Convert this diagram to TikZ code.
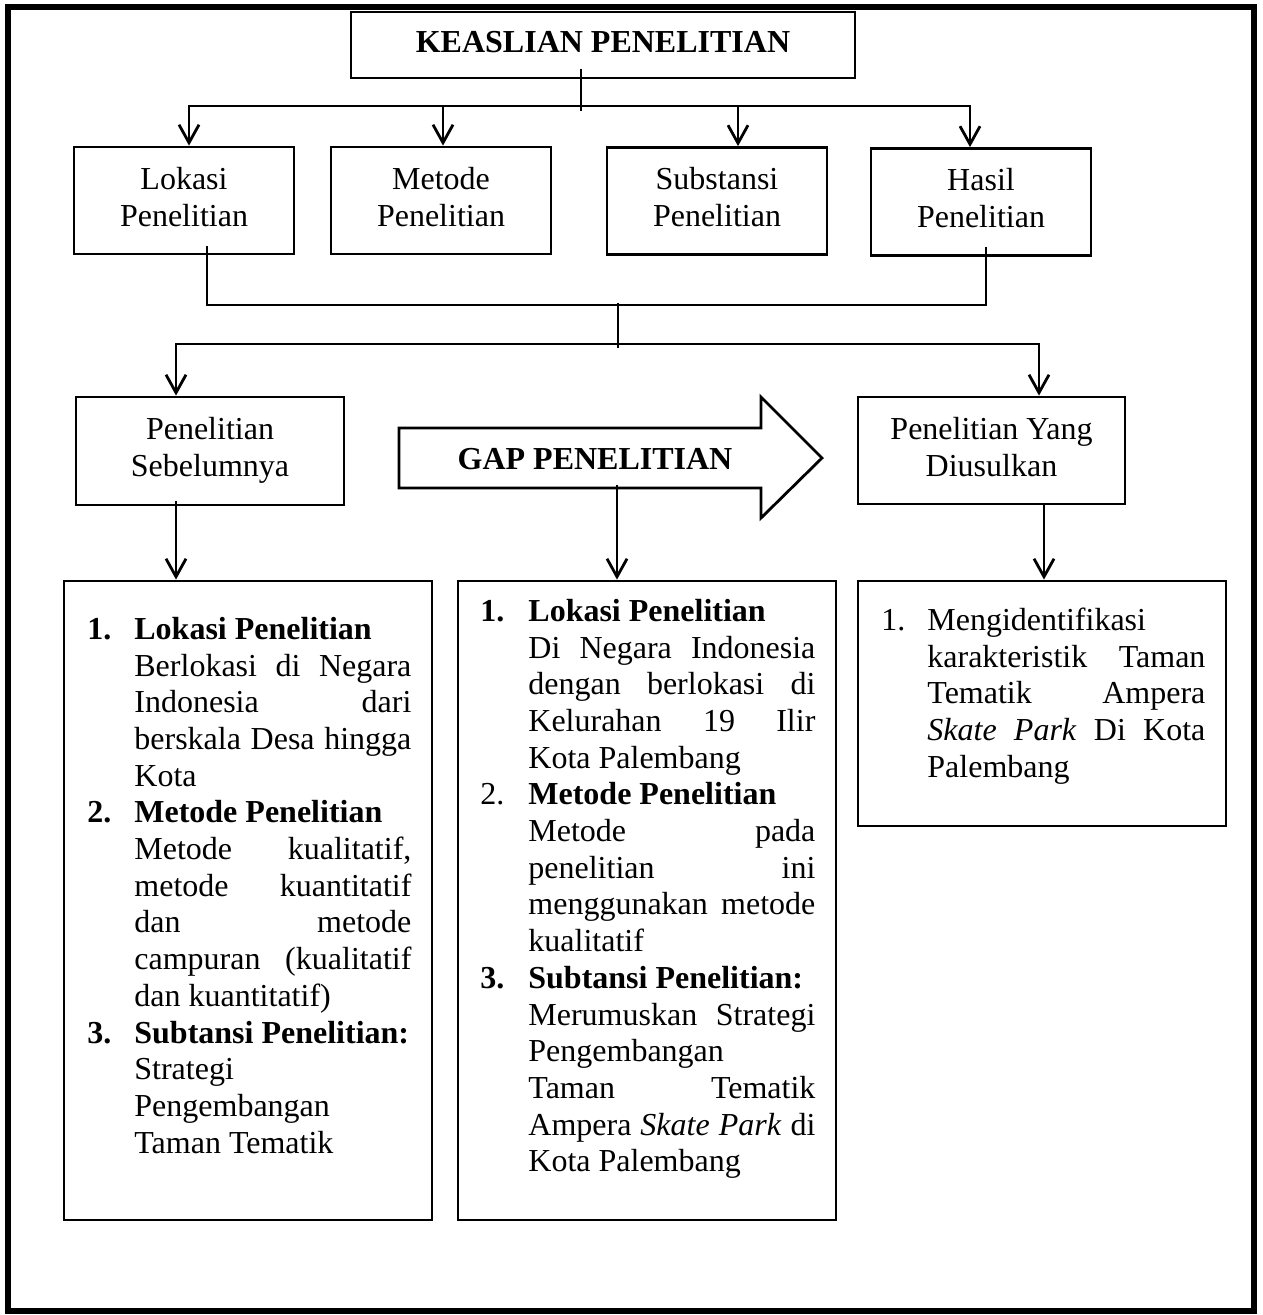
\documentclass[tikz,border=0pt]{standalone}
\usepackage{fontspec}
\setmainfont{Liberation Serif}
\usetikzlibrary{arrows.meta,calc}

% body text: 16pt with 18.35pt leading
\newcommand\bodyfont{\fontsize{16}{18.35}\selectfont}
% plain interword spacing of the font
\newcommand\fontspaces{\spaceskip=0pt\relax}
% list layout: width of the number column and of the text column
\newlength\boxnumw
\newlength\boxtxtw
\newcommand\num[2]{\makebox[\boxnumw][l]{#1}#2}
% justified line: interword spaces stretch evenly to fill the column
\newcommand\jl[1]{\hspace*{\boxnumw}\makebox[\boxtxtw][s]{\spaceskip=.25em plus 1fil\relax#1}}
\newcommand\pl[1]{\hspace*{\boxnumw}#1}

\begin{document}
\begin{tikzpicture}[x=0.5pt,y=-0.5pt,
  wire/.style={line width=1.4pt},
  arrow/.style={wire,-{Straight Barb[length=9pt,width=10pt]}},
  box/.style={draw,line width=1.4pt,inner sep=0pt,align=center,font=\bodyfont,fill=white},
  listbox/.style={draw,line width=1.4pt,inner sep=0pt,fill=white},
  listtext/.style={anchor=north west,inner sep=0pt,align=left,font=\bodyfont}]

\useasboundingbox (0,0) rectangle (1262,1315);
\fill[white] (0,0) rectangle (1262,1315);

% outer frame
\draw[line width=3pt] (8,7) rectangle (1254,1311);

% title
\node[box,minimum width=252pt,minimum height=33pt] (title) at (603,45)
  {\fontspaces\strut\textbf{KEASLIAN PENELITIAN}};

% four aspects
\node[box,minimum width=110pt,minimum height=53.5pt] (lok) at (184,200.5)
  {\strut Lokasi\\\strut Penelitian};
\node[box,minimum width=110pt,minimum height=53.5pt] (met) at (441,200.5)
  {\strut Metode\\\strut Penelitian};
\node[box,minimum width=110pt,minimum height=53.5pt] (sub) at (717,201)
  {\strut Substansi\\\strut Penelitian};
\node[box,minimum width=110pt,minimum height=53.5pt] (has) at (981,202)
  {\strut Hasil\\\strut Penelitian};

% previous vs proposed research
\node[box,minimum width=134pt,minimum height=54pt] (prev) at (210,451)
  {\strut Penelitian\\\strut Sebelumnya};
\node[box,minimum width=133.5pt,minimum height=53.5pt] (prop) at (991.5,450.5)
  {\fontspaces\strut Penelitian Yang\\\strut Diusulkan};

% GAP arrow
\draw[line width=1.4pt,fill=white,line join=miter]
  (399,428) -- (761,428) -- (761,397) -- (822,458) -- (761,518) -- (761,488) -- (399,488) -- cycle;
\node[anchor=base,inner sep=0pt,font=\bodyfont] (gap) at (595,469) {\fontspaces\textbf{GAP PENELITIAN}};

% list boxes
\node[listbox,minimum width=184pt,minimum height=319.5pt] (prevlist) at (248,900.5) {};
\node[listbox,minimum width=189pt,minimum height=319.5pt] (gaplist) at (647,900.5) {};
\node[listbox,minimum width=184pt,minimum height=122.5pt] (proplist) at (1042,703.5) {};

% connectors: title to the four aspects
\coordinate (stemBot) at (581,111);
\draw[wire] ($(title.south -| stemBot)+(0,-10)$) -- (stemBot);
\coordinate (busA) at (189,106);
\coordinate (busB) at (443,106);
\coordinate (busC) at (738,106);
\coordinate (busD) at (970,106);
\draw[arrow] (busD) -- (busA) -- (busA |- lok.north);
\draw[arrow] (busA) -- (busD) -- (busD |- has.north);
\draw[arrow] (busB) -- (busB |- met.north);
\draw[arrow] (busC) -- (busC |- sub.north);

% connectors: aspects joined, then split
\coordinate (joinL) at (207,305);
\coordinate (joinR) at (986,305);
\draw[wire] ($(lok.south -| joinL)+(0,-9)$) -- (joinL) -- (joinR) -- ($(has.south -| joinR)+(0,-10)$);
\coordinate (midTop) at (618,303);
\coordinate (midBot) at (618,348);
\draw[wire] (midTop) -- (midBot);
\coordinate (splitL) at (176,344);
\coordinate (splitR) at (1039,344);
\draw[arrow] (splitR) -- (splitL) -- (splitL |- prev.north);
\draw[arrow] (splitL) -- (splitR) -- (splitR |- prop.north);

% connectors down to the lists
\draw[arrow] ($(prev.south -| splitL)+(0,-5)$) -- (splitL |- prevlist.north);
\coordinate (gapFoot) at (617,485);
\draw[arrow] (gapFoot) -- (gapFoot |- gaplist.north);
\coordinate (propFoot) at (1044,504);
\draw[arrow] (prop.south -| propFoot) -- (propFoot |- proplist.north);

% list texts
\setlength\boxnumw{23.5pt}\setlength\boxtxtw{138.5pt}
\node[listtext,text width=164pt] (prevtext) at (87,613.3) {\noindent\fontspaces\strut
\num{\textbf{1.}}{\textbf{Lokasi Penelitian}}\\
\jl{Berlokasi di Negara}\\
\jl{Indonesia dari}\\
\jl{berskala Desa hingga}\\
\pl{Kota}\\
\num{\textbf{2.}}{\textbf{Metode Penelitian}}\\
\jl{Metode kualitatif,}\\
\jl{metode kuantitatif}\\
\jl{dan metode}\\
\jl{campuran (kualitatif}\\
\pl{dan kuantitatif)}\\
\num{\textbf{3.}}{\textbf{Subtansi Penelitian:}}\\
\pl{Strategi}\\
\pl{Pengembangan}\\
\pl{Taman Tematik}};

\setlength\boxnumw{24pt}\setlength\boxtxtw{143.5pt}
\node[listtext,text width=170pt] (gaptext) at (480,595.3) {\noindent\fontspaces\strut
\num{\textbf{1.}}{\textbf{Lokasi Penelitian}}\\
\jl{Di Negara Indonesia}\\
\jl{dengan berlokasi di}\\
\jl{Kelurahan 19 Ilir}\\
\pl{Kota Palembang}\\
\num{2.}{\textbf{Metode Penelitian}}\\
\jl{Metode pada}\\
\jl{penelitian ini}\\
\jl{menggunakan metode}\\
\pl{kualitatif}\\
\num{\textbf{3.}}{\textbf{Subtansi Penelitian:}}\\
\jl{Merumuskan Strategi}\\
\pl{Pengembangan}\\
\jl{Taman Tematik}\\
\jl{Ampera \textit{Skate Park} di}\\
\pl{Kota Palembang}};

\setlength\boxnumw{23pt}\setlength\boxtxtw{139pt}
\node[listtext,text width=164pt] (proptext) at (881,604.3) {\noindent\fontspaces\strut
\num{1.}{Mengidentifikasi}\\
\jl{karakteristik Taman}\\
\jl{Tematik Ampera}\\
\jl{\textit{Skate Park} Di Kota}\\
\pl{Palembang}};

\end{tikzpicture}
\end{document}
